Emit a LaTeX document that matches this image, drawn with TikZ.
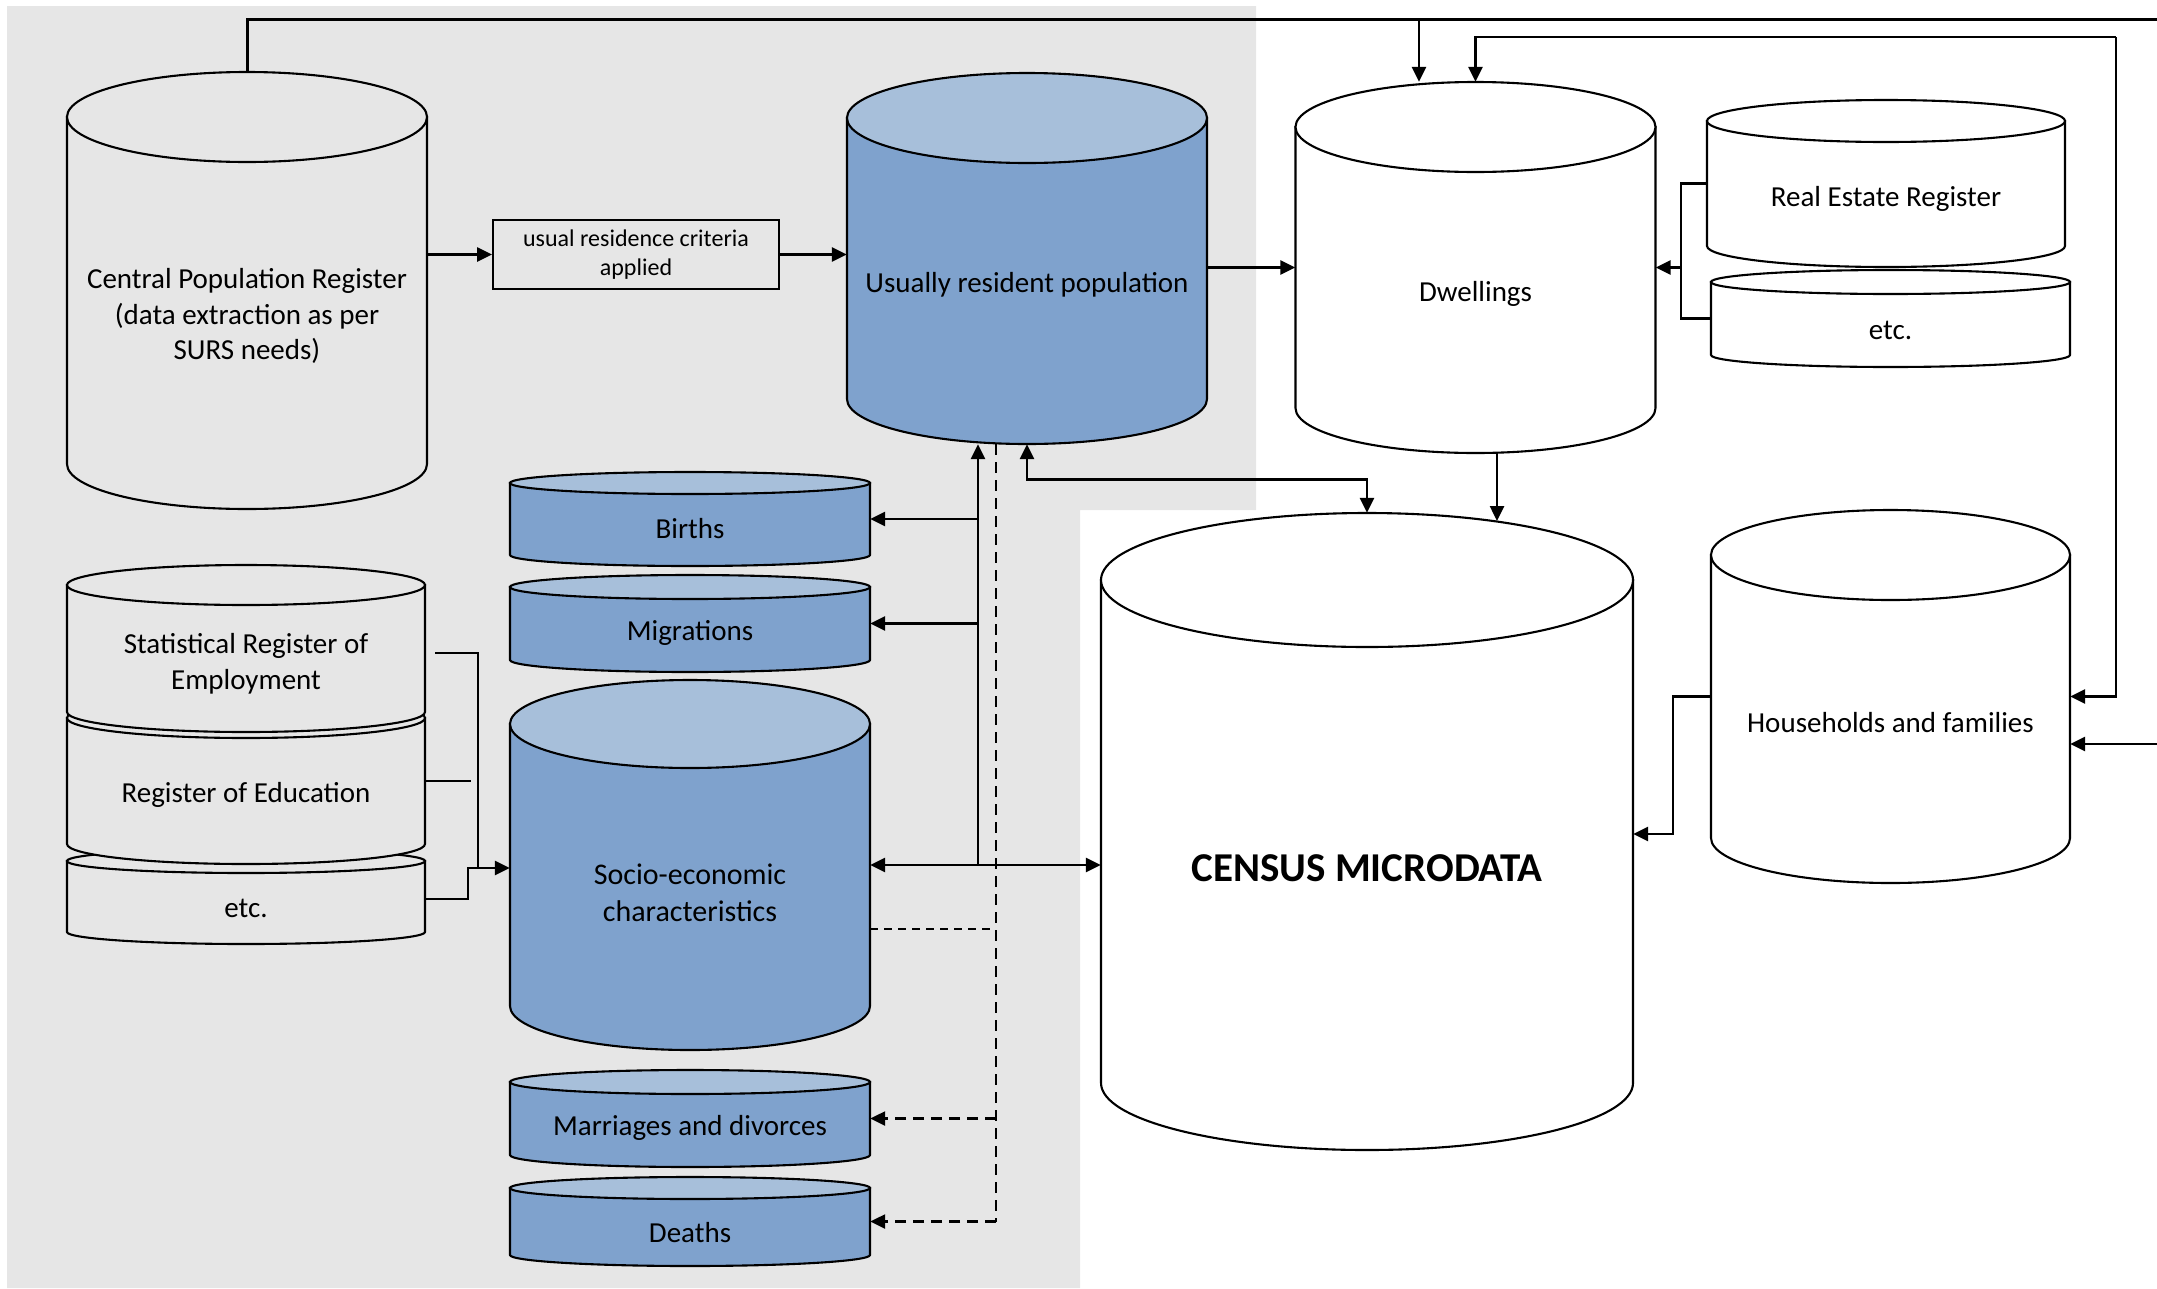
\documentclass[tikz,border=0pt]{standalone}
\usepackage{fontspec}
\setmainfont{Carlito}
\usetikzlibrary{arrows.meta,calc}
\definecolor{bggray}{HTML}{E6E6E6}
\definecolor{bluebody}{HTML}{7FA2CD}
\definecolor{bluetop}{HTML}{A7BFDA}
\colorlet{whitebody}{white}
\colorlet{whitetop}{white}
\colorlet{graybody}{bggray}
\colorlet{graytop}{bggray}
\tikzset{
  cylline/.style={draw=black, line width=2.1pt},
  cyltext/.style={font=\fontsize{29}{35.5}\selectfont, align=center, text=black, inner sep=0pt, yshift=-3pt},
  conn/.style={line width=2.6pt, -{Triangle[length=15pt,width=14pt]}},
  connb/.style={line width=2.6pt, {Triangle[length=15pt,width=14pt]}-{Triangle[length=15pt,width=14pt]}},
  plainline/.style={line width=2.2pt},
  dashline/.style={line width=2.4pt, dash pattern=on 11pt off 7pt},
  dconn/.style={line width=2.4pt, dash pattern=on 11pt off 7pt, -{Triangle[length=15pt,width=14pt]}},
}
\newcommand{\dbcyl}[7]{%
  \pgfmathsetmacro\cyLx{#2-#5}%
  \pgfmathsetmacro\cyRx{#2+#5}%
  \pgfmathsetmacro\cyTy{#3+#6}%
  \pgfmathsetmacro\cyBy{#4-#6}%
  \pgfmathsetmacro\cyMy{(#3+#4)/2}%
  \pgfmathsetmacro\cyW{2*#5}%
  \pgfmathsetmacro\cyH{#4-#3}%
  \draw[cylline, fill=#7body] (\cyLx,\cyTy) -- (\cyLx,\cyBy)
     arc[start angle=180, end angle=360, x radius=#5pt, y radius=#6pt] -- (\cyRx,\cyTy) -- cycle;
  \draw[cylline, fill=#7top] (#2,\cyTy) ellipse [x radius=#5pt, y radius=#6pt];
  \node[inner sep=0pt, minimum width=\cyW pt, minimum height=\cyH pt] (#1) at (#2,\cyMy) {};
}
\begin{document}
\begin{tikzpicture}[x=1pt,y=-1pt]
\useasboundingbox (0,0) rectangle (2157,1288);
\fill[bggray] (7,6) -- (1256,6) -- (1256,510) -- (1080,510) -- (1080,1288) -- (7,1288) -- cycle;

% cylinders
\dbcyl{cpr}{247}{72}{509}{180}{45}{gray}
\dbcyl{urp}{1027}{73}{444}{180}{45}{blue}
\dbcyl{dw}{1475.5}{82}{453}{180}{45}{white}
\dbcyl{rer}{1886}{100}{267}{179}{21}{white}
\dbcyl{etcA}{1890.5}{270}{367}{179.5}{12}{white}
\dbcyl{census}{1367}{513}{1150}{266}{67}{white}
\dbcyl{hf}{1890.5}{510}{883}{179.5}{45}{white}
\dbcyl{births}{690}{472}{566}{180}{11}{blue}
\dbcyl{mig}{690}{575}{672}{180}{12}{blue}
\dbcyl{socio}{690}{680}{1050}{180}{44}{blue}
\dbcyl{mar}{690}{1070}{1167}{180}{12}{blue}
\dbcyl{deaths}{690}{1177}{1266}{180}{11}{blue}
\dbcyl{etcB}{246}{849}{944}{179}{12}{gray}
\dbcyl{roe}{246}{698}{864}{179}{20}{gray}
\dbcyl{sre}{246}{565}{732}{179}{20}{gray}

% texts
\node[cyltext] (cpr-t) at (247,313) {Central Population Register\\(data extraction as per\\SURS needs)};
\node[cyltext] (urp-t) at (1027,282) {Usually resident population};
\node[cyltext] (dw-t) at (1475.5,291) {Dwellings};
\node[cyltext] (rer-t) at (1886,196) {Real Estate Register};
\node[cyltext] (etcA-t) at (1890.5,327) {etc.};
\node[cyltext, font=\bfseries\fontsize{41}{48}\selectfont, yshift=2pt] (census-t) at (1367,867) {CENSUS MICRODATA};
\node[cyltext] (hf-t) at (1890.5,720) {Households and families};
\node[cyltext] (births-t) at (690,526) {Births};
\node[cyltext] (mig-t) at (690,630) {Migrations};
\node[cyltext, font=\fontsize{30}{37}\selectfont] (socio-t) at (690,890) {Socio-economic\\characteristics};
\node[cyltext] (mar-t) at (690,1125) {Marriages and divorces};
\node[cyltext] (deaths-t) at (690,1230) {Deaths};
\node[cyltext] (sre-t) at (246,661) {Statistical Register of\\Employment};
\node[cyltext] (roe-t) at (246,792) {Register of Education};
\node[cyltext] (etcB-t) at (246,905) {etc.};

% process box
\node[draw, line width=2pt, fill=bggray, minimum width=286pt, minimum height=69pt, inner sep=0pt,
      align=center, font=\fontsize{24}{29}\selectfont] (box) at (636,254.5) {usual residence criteria\\applied};

% top connectors
\coordinate (edgeA) at (2157,19);
\coordinate (jA) at (1419,19);
\draw[plainline, line width=3pt] (cpr.north) |- (edgeA);
\draw[conn] (jA) -- (jA |- dw.north);
\coordinate (rt) at (2116,37);
\draw[conn] (rt) -| (dw.north);
\draw[conn] (rt) |- (hf.east);
\coordinate (edgeB) at (2157,744);
\draw[conn] (edgeB) -- (edgeB -| hf.east);

% main flow
\draw[conn] (cpr.east |- box.west) -- (box.west);
\draw[conn] (box.east) -- (box.east -| urp.west);
\draw[conn] (urp.east |- dw.west) -- (dw.west);

% real estate bracket
\draw[plainline] (rer.west) -- ++(-26,0) coordinate (rb) |- (etcA.west);
\draw[conn] (rb |- dw.east) -- (dw.east);

% dwellings -> census
\coordinate (cenTop) at (1497,521);
\draw[conn] (cenTop |- dw.south) -- (cenTop);

% usually resident <-> census
\draw[connb] (urp.south) -- ++(0,35) -| (census.north);

% households -> census
\draw[conn] (hf.west) -- ++(-38,0) |- ($(census.east)+(0,2.5)$);

% bus
\coordinate (bus) at (978,865);
\draw[conn] (bus) -- (bus |- urp.south);
\draw[conn] (bus |- births.east) -- (births.east);
\draw[conn] (bus |- mig.east) -- (mig.east);
\draw[connb] (socio.east) -- (socio.east -| census.west);

% dashed
\coordinate (dbot) at (996,1222);
\draw[dashline] (dbot |- urp.south) -- (dbot);
\draw[dconn] (dbot |- mar.east) -- (mar.east);
\draw[dconn] (dbot |- deaths.east) -- (deaths.east);
\draw[line width=1.6pt, dash pattern=on 8pt off 6pt] ($(socio.east)+(0,64)$) -- ($(dbot |- socio.east)+(0,64)$);

% left stack connectors
\coordinate (lv) at (478,868);
\draw[plainline] ($(sre.east)+(10,4.5)$) -| (lv);
\draw[plainline] (roe.east) -- ++(45.7,0);
\draw[plainline] ($(etcB.east)+(0,2.5)$) -- ++(43,0) |- (lv);
\draw[conn] (lv) -- (lv -| socio.west);
\end{tikzpicture}
\end{document}
